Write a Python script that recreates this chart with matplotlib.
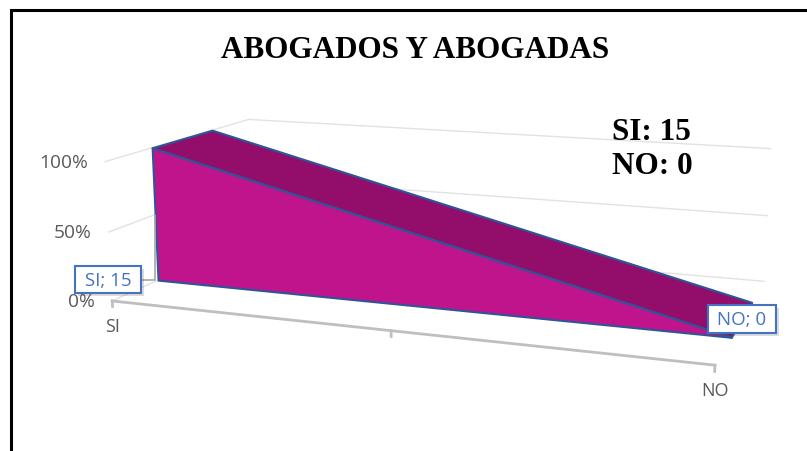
import matplotlib
matplotlib.use("Agg")
import matplotlib.pyplot as plt
import matplotlib.patheffects as pe
import numpy as np
from matplotlib.patches import Rectangle
from mpl_toolkits.mplot3d import proj3d
from mpl_toolkits.mplot3d.art3d import Poly3DCollection

# data
categories = ["SI", "NO"]
counts = [15, 0]
value_ticks = [0, 50, 100]
value_tick_labels = ["0%", "50%", "100%"]
title = "ABOGADOS Y ABOGADAS"
summary_lines = ["SI: 15", "NO: 0"]

# 100% stacked area with one series: a non-empty category fills to 100%
shares = [100.0 if c else 0.0 for c in counts]
xs = np.arange(len(categories))

FRONT = "#C0148C"
TOP = "#920E6A"
EDGE = "#2E5597"
GRID = "#E2E2E2"
AXIS = "#BFBFBF"
TEXT = "#595959"
LABEL = "#4472C4"

fig = plt.figure(figsize=(8.07, 4.52), dpi=100)
ax = fig.add_axes([-0.062, -0.524, 1.2, 2.0], projection="3d", computed_zorder=False)
ax.set_axis_off()
ax.set_proj_type("persp", focal_length=0.296)
ax.view_init(elev=12.5, azim=-70)
ax.set_box_aspect((1.0, 0.5, 0.235), zoom=0.727)

y_front, y_back = 0.29, 0.71
x_first, x_last = xs[0], xs[-1]

# gridlines on side wall and back wall
for v in value_ticks:
    ax.plot([x_first, x_first], [0, 1], [v, v], color=GRID, lw=1, zorder=1)
    ax.plot([x_first, x_last], [1, 1], [v, v], color=GRID, lw=1, zorder=1)

# category axis with tick marks
ax.plot([x_first, x_last], [0, 0], [0, 0], color=AXIS, lw=2, zorder=2)
for t in np.linspace(x_first, x_last, 2 * len(categories) - 1):
    ax.plot([t, t], [0, 0], [0, -4], color=AXIS, lw=2, zorder=2)

# area slab: top face then front face
top_faces = []
for i in range(len(xs) - 1):
    top_faces.append([(xs[i], y_front, shares[i]), (xs[i], y_back, shares[i]),
                      (xs[i + 1], y_back, shares[i + 1]), (xs[i + 1], y_front, shares[i + 1])])
ax.add_collection3d(Poly3DCollection(top_faces, facecolors=TOP, edgecolors=EDGE,
                                     linewidths=1.5, zorder=3))

front_face = [(x, y_front, s) for x, s in zip(xs, shares)]
front_face += [(x_last, y_front, 0), (x_first, y_front, 0)]
ax.add_collection3d(Poly3DCollection([front_face], facecolors=FRONT, edgecolors=EDGE,
                                     linewidths=1.5, zorder=4))

ax.set_xlim(x_first, x_last)
ax.set_ylim(0, 1)
ax.set_zlim(0, 100)

M = ax.get_proj()


def to2d(x, y, z):
    px, py, _ = proj3d.proj_transform(x, y, z, M)
    return px, py


# value axis labels on the front edge of the side wall
for v, lab in zip(value_ticks, value_tick_labels):
    ax.annotate(lab, xy=to2d(x_first, 0, v), xytext=(-17, 0), textcoords="offset pixels",
                ha="right", va="center", fontsize=13.8, color=TEXT, family="Open Sans")

# category labels
for x, cat in zip(xs, categories):
    ax.annotate(cat, xy=to2d(x, 0, 0), xytext=(0, -25), textcoords="offset pixels",
                ha="center", va="center", fontsize=13, color=TEXT, family="Open Sans")

# data labels
box = dict(boxstyle="square,pad=0.25", fc="white", ec=LABEL, lw=1.5)
for i, (x, cat, cnt, s) in enumerate(zip(xs, categories, counts, shares)):
    text = f" {cat}; {cnt} "
    if s > 0:
        ann = ax.annotate(text, xy=to2d(x, y_front, s / 2), xytext=(-47, -65),
                          textcoords="offset pixels", ha="center", va="center",
                          fontsize=13.5, color=LABEL, family="Open Sans", bbox=box, zorder=6,
                          arrowprops=dict(arrowstyle="-", color="#A6A6A6", lw=1.2,
                                          shrinkA=0, shrinkB=0, relpos=(1, 0.5),
                                          connectionstyle="angle,angleA=0,angleB=90,rad=0"))
    else:
        ann = ax.annotate(text, xy=to2d(x, 0.5, s), ha="center", va="center",
                          fontsize=13.5, color=LABEL, family="Open Sans", bbox=box, zorder=6)
    ann.get_bbox_patch().set_path_effects([pe.SimplePatchShadow(offset=(2, -2), alpha=0.2),
                                           pe.Normal()])

fig.text(0.514, 0.889, title, ha="center", va="center", fontsize=22.4,
         fontweight="bold", family="Liberation Serif", color="black")
for k, line in enumerate(summary_lines):
    fig.text(0.758, 0.690 - k * 0.075, line, ha="left", va="baseline", fontsize=22.5,
             fontweight="bold", family="Liberation Serif", color="black")

# chart frame (cut off on the right and bottom in the original)
fig.add_artist(Rectangle((10.5 / 807, -0.1), 1.2, 1.0746, transform=fig.transFigure,
                         fill=False, ec="black", lw=2.2))

fig.savefig("out.png", dpi=100)
